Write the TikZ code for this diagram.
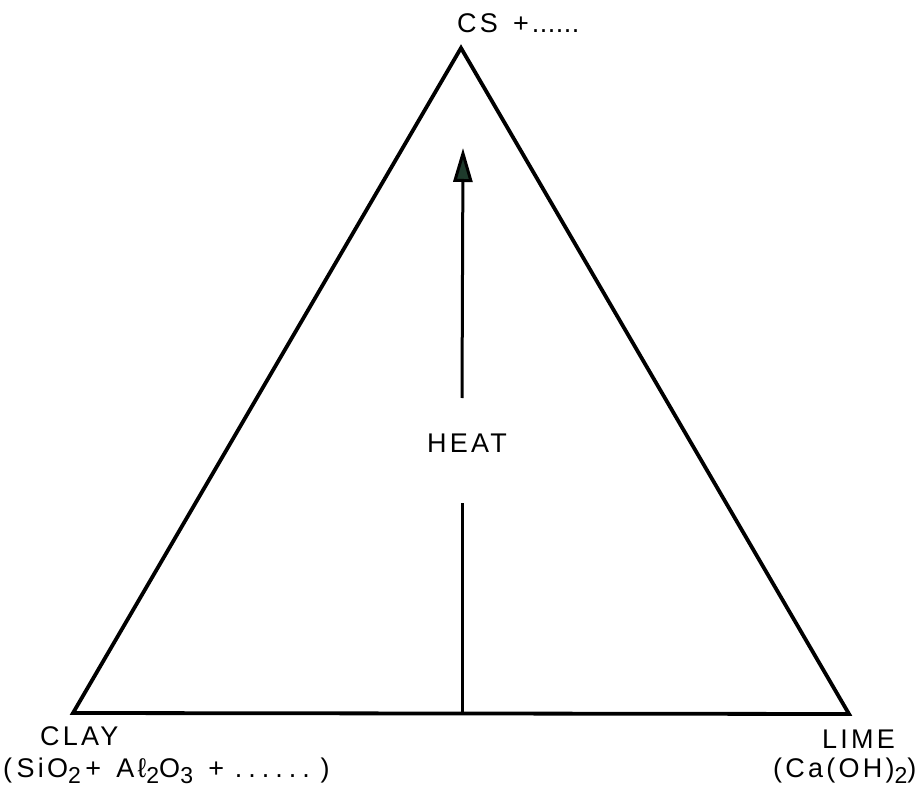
\documentclass[tikz,border=0pt]{standalone}
\usepackage{fontspec}
\setmainfont{Liberation Sans}
\usetikzlibrary{arrows.meta}
\definecolor{tipgreen}{HTML}{1E3A2C}
\newcommand\lsub[1]{\raisebox{-0.45ex}{\fontsize{23}{23}\selectfont #1}}
\newcommand\sixdots[1]{{\addfontfeature{LetterSpace=0}.\hspace{#1}.\hspace{#1}.\hspace{#1}.\hspace{#1}.\hspace{#1}.}}
\begin{document}
\begin{tikzpicture}[x=1pt,y=1pt,
  lbl/.style={inner sep=0pt,font=\fontsize{27}{30}\selectfont\addfontfeature{LetterSpace=12}},
  edge/.style={line width=3.8pt,line join=miter}]
\useasboundingbox (0,0) rectangle (920,-791);
\coordinate (T) at (461,-48);
\coordinate (L) at (73,-713);
\coordinate (R) at (849,-714);
\draw[edge] (T) -- (L) -- (R) -- cycle;
\coordinate (a0) at (462,-713);
\coordinate (a1) at (462,-503);
\coordinate (a2) at (462,-398);
\coordinate (a3) at (463,-148);
\draw[line width=3pt] (a0) -- (a1);
\draw[line width=3pt,-{Triangle[length=34pt,width=19pt,fill=tipgreen]}] (a2) -- (a3);
\node[lbl,anchor=base west] (heat) at (427,-452) {HEAT};
\node[lbl,anchor=base west] (cs) at (457,-33) {CS\ \,+\hspace{3pt}\sixdots{0.5pt}};
\node[lbl,anchor=base west] (clay) at (40,-745) {CLAY};
\node[lbl,anchor=base west] (clayf) at (3,-777) {(\,SiO\lsub{2}\,+ \,Aℓ\lsub{2}O\lsub{3}\ \,+ \sixdots{6pt}\ )};
\node[lbl,anchor=base west] (lime) at (822,-748) {LIME};
\node[lbl,anchor=base west] (limef) at (773,-777) {(Ca(OH)\lsub{2})};
\end{tikzpicture}
\end{document}
